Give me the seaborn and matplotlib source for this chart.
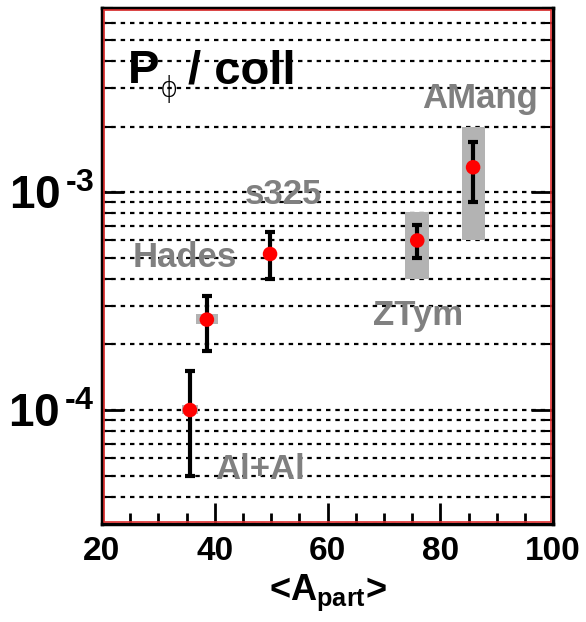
import numpy as np
import pandas as pd
import matplotlib
matplotlib.use("Agg")
import matplotlib.pyplot as plt
import seaborn as sns
from matplotlib.patches import Rectangle
from matplotlib.ticker import FixedLocator, NullFormatter

# ---- data ----
experiments = ["Al+Al", "Hades", "s325", "ZTym", "AMang"]
a_part = [35.6, 38.6, 49.8, 75.9, 85.8]
p_phi = [1.00e-4, 2.60e-4, 5.20e-4, 6.00e-4, 1.30e-3]
stat_hi = [1.51e-4, 3.34e-4, 6.55e-4, 7.10e-4, 1.69e-3]
stat_lo = [5.0e-5, 1.87e-4, 4.0e-4, 4.97e-4, 9.0e-4]
sys_hi = [1.05e-4, 2.75e-4, np.nan, 8.1e-4, 2.0e-3]
sys_lo = [0.955e-4, 2.48e-4, np.nan, 4.0e-4, 6.0e-4]
sys_width = [2.7, 3.9, 0.0, 4.3, 4.1]

label_x = [40.0, 25.5, 45.3, 68.0, 76.8]
label_y = [4.82e-5, 4.53e-4, 8.8e-4, 2.45e-4, 2.43e-3]

x_ticks = [20, 40, 60, 80, 100]
y_ticks = [1e-4, 1e-3]
y_ticklabels = [r"$10^{\,\text{-4}}$", r"$10^{\,\text{-3}}$"]

df = pd.DataFrame({"exp": experiments, "A": a_part, "P": p_phi,
                   "hi": stat_hi, "lo": stat_lo,
                   "shi": sys_hi, "slo": sys_lo, "sw": sys_width})

sns.set_style("ticks")
plt.rcParams["font.family"] = ["Liberation Sans", "DejaVu Sans"]
plt.rcParams["font.weight"] = "bold"
plt.rcParams["text.color"] = "black"
plt.rcParams["axes.labelcolor"] = "black"
plt.rcParams["xtick.color"] = "black"
plt.rcParams["ytick.color"] = "black"
plt.rcParams["mathtext.fontset"] = "custom"
plt.rcParams["mathtext.rm"] = "Liberation Sans:bold"
plt.rcParams["mathtext.bf"] = "Liberation Sans:bold"
plt.rcParams["mathtext.it"] = "Liberation Sans:bold:italic"

fig = plt.figure(figsize=(5.86, 6.22), dpi=100)
ax = fig.add_axes([0.174, 0.1576, 0.770, 0.8296])
ax.set_yscale("log")
ax.set_xlim(20, 100)
ax.set_ylim(3.0e-5, 7.0e-3)

# grid
ax.yaxis.grid(True, which="both", color="black", linestyle=(0, (2, 2.2)), linewidth=1.6)
ax.xaxis.grid(False)
ax.set_axisbelow(True)

# systematic boxes
sd = df.dropna()
ax.bar(sd["A"], sd["shi"] - sd["slo"], bottom=sd["slo"], width=sd["sw"],
       color="#b3b3b3", edgecolor="none", zorder=2)

# statistical error bars
ax.errorbar(df["A"], df["P"], yerr=[df["P"] - df["lo"], df["hi"] - df["P"]],
            fmt="none", ecolor="black", elinewidth=3, capsize=3.6, capthick=3, zorder=3)

# points
sns.scatterplot(data=df, x="A", y="P", ax=ax, color="#ff0000", s=110,
                edgecolor="none", zorder=4, legend=False)

# labels
for name, lx, ly in zip(experiments, label_x, label_y):
    ax.text(lx, ly, name, color="#808080", fontsize=25, fontweight="bold",
            ha="left", va="baseline", zorder=5)

# title-like annotation "P_phi / coll"
ax.text(24.6, 3.16e-3, "P", color="black", fontsize=34,
        fontweight="bold", ha="left", va="baseline", zorder=5)
ax.text(31.9, 2.98e-3, "\u03d5", color="black", fontsize=20,
        family="DejaVu Sans", fontweight="light", ha="center", va="center", zorder=5)
ax.text(35.2, 3.16e-3, "/ coll", color="black", fontsize=34,
        fontweight="bold", ha="left", va="baseline", zorder=5)

# axes styling
ax.set_xticks(x_ticks)
ax.set_xticklabels([str(v) for v in x_ticks])
ax.xaxis.set_minor_locator(FixedLocator(np.arange(20, 101, 5)))
ax.yaxis.set_major_locator(FixedLocator(y_ticks))
ax.set_yticklabels(y_ticklabels)
minor_y = [m * 10.0 ** e for e in (-5, -4, -3) for m in range(2, 10)]
ax.yaxis.set_minor_locator(FixedLocator(minor_y))
ax.yaxis.set_minor_formatter(NullFormatter())

ax.tick_params(axis="x", which="major", direction="in", length=15, width=2,
               labelsize=24, pad=9, top=False, colors="black")
ax.tick_params(axis="x", which="minor", direction="in", length=8, width=2, top=False)
ax.tick_params(axis="y", which="major", direction="in", length=16, width=2,
               labelsize=33, pad=5, right=True, colors="black")
ax.tick_params(axis="y", which="minor", direction="in", length=8, width=1.5, right=True)
for lab in ax.get_xticklabels() + ax.get_yticklabels():
    lab.set_fontweight("bold")
    lab.set_color("black")

for sp in ax.spines.values():
    sp.set_visible(True)
    sp.set_color("black")
    sp.set_linewidth(2.5)

ax.add_patch(Rectangle((0.004, 0.004), 0.992, 0.992, transform=ax.transAxes,
                       fill=False, edgecolor="#e03030", linewidth=1.2, zorder=6,
                       clip_on=False))

ax.set_xlabel(r"<A$_{\rm part}$>", fontsize=26, fontweight="bold", labelpad=4,
              color="black")
ax.set_ylabel("")

fig.savefig("out.png", dpi=100)
